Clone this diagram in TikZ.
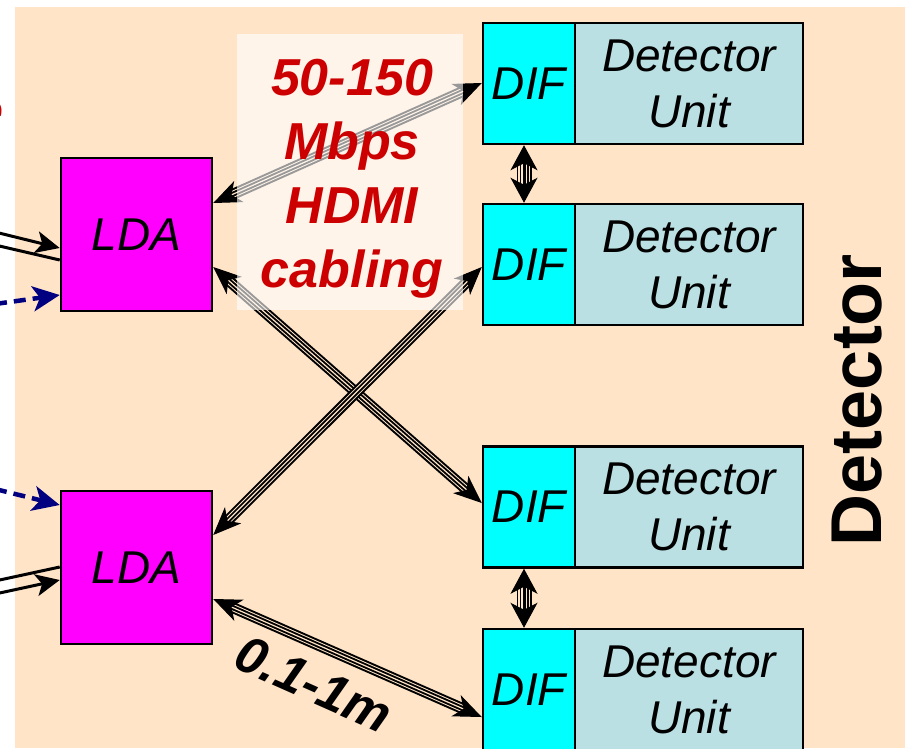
\documentclass[tikz,border=0pt]{standalone}
\usepackage{fontspec}
\setmainfont{Liberation Sans}
\usetikzlibrary{arrows.meta,calc}
\definecolor{peach}{RGB}{255,228,200}
\definecolor{ldamag}{RGB}{255,0,255}
\definecolor{difcyan}{RGB}{0,255,255}
\definecolor{unitblue}{RGB}{187,224,227}
\definecolor{labelred}{RGB}{204,0,0}
\definecolor{navyline}{RGB}{0,0,128}

% striped cable with solid heads at both ends
\newcommand\cablelink[2]{%
  \draw[black,line width=11pt] ($(#1)!16pt!(#2)$) -- ($(#2)!16pt!(#1)$);
  \draw[peach,line width=7pt] ($(#1)!16pt!(#2)$) -- ($(#2)!16pt!(#1)$);
  \draw[black,line width=5pt] ($(#1)!16pt!(#2)$) -- ($(#2)!16pt!(#1)$);
  \draw[peach,line width=1.2pt] ($(#1)!16pt!(#2)$) -- ($(#2)!16pt!(#1)$);
  \draw[black,line width=1pt,-{Stealth[length=28pt,width=23pt,inset=8pt]}] ($(#2)!18pt!(#1)$) -- (#2);
  \draw[black,line width=1pt,-{Stealth[length=28pt,width=23pt,inset=8pt]}] ($(#1)!18pt!(#2)$) -- (#1);
}
\newcommand\shortlink[2]{%
  \draw[black,line width=15pt] ($(#1)!15pt!(#2)$) -- ($(#2)!15pt!(#1)$);
  \draw[peach,line width=12pt] ($(#1)!15pt!(#2)$) -- ($(#2)!15pt!(#1)$);
  \draw[black,line width=9pt] ($(#1)!15pt!(#2)$) -- ($(#2)!15pt!(#1)$);
  \draw[peach,line width=6pt] ($(#1)!15pt!(#2)$) -- ($(#2)!15pt!(#1)$);
  \draw[black,line width=3pt] ($(#1)!15pt!(#2)$) -- ($(#2)!15pt!(#1)$);
  \draw[black,line width=1pt,-{Stealth[length=25pt,width=27pt,inset=7pt]}] ($(#2)!17pt!(#1)$) -- (#2);
  \draw[black,line width=1pt,-{Stealth[length=25pt,width=27pt,inset=7pt]}] ($(#1)!17pt!(#2)$) -- (#1);
}

\begin{document}
\begin{tikzpicture}[x=1pt,y=-1pt,
  ldabox/.style={draw=black,line width=2.5pt,fill=ldamag,minimum width=151pt,minimum height=153pt,inner sep=0pt,font=\fontsize{46}{55}\selectfont\itshape},
  difbox/.style={draw=black,line width=2.5pt,fill=difcyan,minimum width=92pt,minimum height=121pt,inner sep=0pt,font=\fontsize{46}{55}\selectfont\itshape},
  unitbox/.style={draw=black,line width=2.5pt,fill=unitblue,minimum width=228pt,minimum height=121pt,inner sep=0pt,align=center,font=\fontsize{46}{56}\selectfont\itshape},
  feedline/.style={black,line width=3pt},
  feedhead/.style={-{Stealth[length=24pt,width=22pt,inset=6pt]}},
  dashfeed/.style={navyline,line width=4.5pt,dash pattern=on 12pt off 7pt,-{Stealth[length=27pt,width=25pt,inset=7pt]}},
  bigred/.style={text=labelred,font=\fontsize{52}{64}\selectfont\bfseries\itshape,align=center}
]
\useasboundingbox (0,0) rectangle (905,748);
\fill[white] (0,0) rectangle (905,748);
\fill[peach] (15,7) rectangle (905,748);

% partial red text at the left edge
\node[anchor=base east,inner sep=0pt,text=labelred,font=\fontsize{52}{64}\selectfont\bfseries\itshape] (cut) at (4,128) {e};

% boxes
\node[ldabox] (lda1) at (136.5,234.5) {LDA};
\node[ldabox] (lda2) at (136.5,567.5) {LDA};

\node[difbox] (dif1) at (529,83.5) {DIF};
\node[difbox] (dif2) at (529,264.5) {DIF};
\node[difbox] (dif3) at (529,507) {DIF};
\node[difbox] (dif4) at (529,689.5) {DIF};
\node[unitbox] (du1) at (689,83.5) {Detector\\Unit};
\node[unitbox] (du2) at (689,264.5) {Detector\\Unit};
\node[unitbox] (du3) at (689,507) {Detector\\Unit};
\node[unitbox] (du4) at (689,689.5) {Detector\\Unit};

% endpoints on the box borders
\coordinate (e1a) at (lda1.east |- 0,203);
\coordinate (e1b) at (dif1.west |- 0,83);
\coordinate (e2a) at (lda1.east |- 0,267);
\coordinate (e2b) at (dif3.west |- 0,503);
\coordinate (e3a) at (lda2.east |- 0,535);
\coordinate (e3b) at (dif2.west |- 0,267);
\coordinate (e4a) at (lda2.east |- 0,599);
\coordinate (e4b) at (dif4.west |- 0,717);
\coordinate (v1a) at (dif1.south -| 524,0);
\coordinate (v1b) at (dif2.north -| 524,0);
\coordinate (v2a) at (dif3.south -| 524,0);
\coordinate (v2b) at (dif4.north -| 524,0);

\cablelink{e1a}{e1b}
\cablelink{e2a}{e2b}
\cablelink{e3a}{e3b}
\cablelink{e4a}{e4b}
\shortlink{v1a}{v1b}
\shortlink{v2a}{v2b}

% incoming feeds from the left
\coordinate (f1s) at (-5,232);
\coordinate (f2s) at (-5,245);
\coordinate (f3s) at (-5,304);
\coordinate (f4s) at (-5,489);
\coordinate (f5s) at (-5,581);
\coordinate (f6s) at (-5,594);
\draw[feedline,feedhead] (f1s) -- (lda1.west |- 0,248);
\draw[feedline] (f2s) -- (lda1.west |- 0,260);
\draw[dashfeed] (f3s) -- (lda1.west |- 0,295);
\draw[dashfeed] (f4s) -- (lda2.west |- 0,505);
\draw[feedline] (f5s) -- (lda2.west |- 0,567);
\draw[feedline,feedhead] (f6s) -- (lda2.west |- 0,580);

% translucent label panel and labels
\fill[white,opacity=0.6] (237,34) rectangle (463,310);
\node[bigred] (rate) at (352,179) {50-150\\Mbps\\HDMI\\cabling};
\node[rotate=-24,font=\fontsize{52}{60}\selectfont\bfseries\itshape] (len) at (314,684) {0.1-1m};
\node[rotate=90,font=\fontsize{72}{80}\selectfont\bfseries] (det) at (857,400) {Detector};
\end{tikzpicture}
\end{document}
